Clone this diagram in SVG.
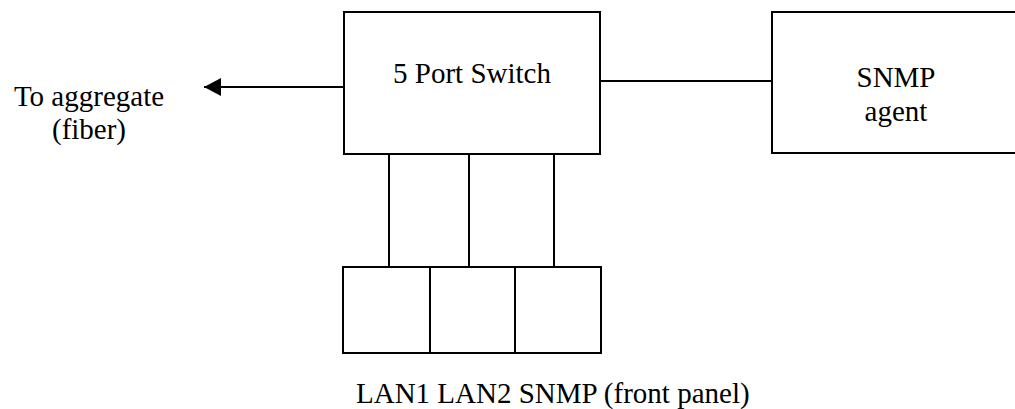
<svg xmlns="http://www.w3.org/2000/svg" width="1015" height="409" viewBox="0 0 1015 409">
  <style>
    .box { fill: #ffffff; stroke: #000000; stroke-width: 2; }
    .wire { fill: none; stroke: #000000; stroke-width: 2; }
    text { font-family: "Liberation Serif", "Times New Roman", serif; font-size: 29px; fill: #000000; }
  </style>
  <defs>
    <marker id="arrowhead" markerUnits="userSpaceOnUse" markerWidth="18" markerHeight="20" refX="17" refY="10" orient="auto">
      <path d="M0,1 L17,10 L0,19 Z" fill="#000000"/>
    </marker>
  </defs>
  <rect width="1015" height="409" fill="#ffffff"/>

  <!-- connectors -->
  <g id="connectors">
    <line class="wire" x1="344" y1="87" x2="204" y2="87" marker-end="url(#arrowhead)"/>
    <line class="wire" x1="600" y1="81" x2="772" y2="81"/>
    <line class="wire" x1="389" y1="154" x2="389" y2="267"/>
    <line class="wire" x1="469" y1="154" x2="469" y2="267"/>
    <line class="wire" x1="554" y1="154" x2="554" y2="267"/>
  </g>

  <!-- switch -->
  <g id="switch">
    <rect class="box" x="344" y="12" width="256" height="142"/>
    <text x="472" y="83" text-anchor="middle">5 Port Switch</text>
  </g>

  <!-- management agent -->
  <g id="snmp-agent">
    <rect class="box" x="772" y="12" width="247" height="141"/>
    <text x="896" y="87" text-anchor="middle">SNMP</text>
    <text x="896" y="121" text-anchor="middle">agent</text>
  </g>

  <!-- uplink label -->
  <g id="uplink">
    <text x="89" y="106" text-anchor="middle">To aggregate</text>
    <text x="89" y="139" text-anchor="middle">(fiber)</text>
  </g>

  <!-- front panel ports -->
  <g id="front-panel">
    <rect class="box" x="343" y="267" width="87" height="86"/>
    <rect class="box" x="430" y="267" width="85" height="86"/>
    <rect class="box" x="515" y="267" width="86" height="86"/>
    <text x="356" y="403">LAN1 LAN2 SNMP (front panel)</text>
  </g>
</svg>
